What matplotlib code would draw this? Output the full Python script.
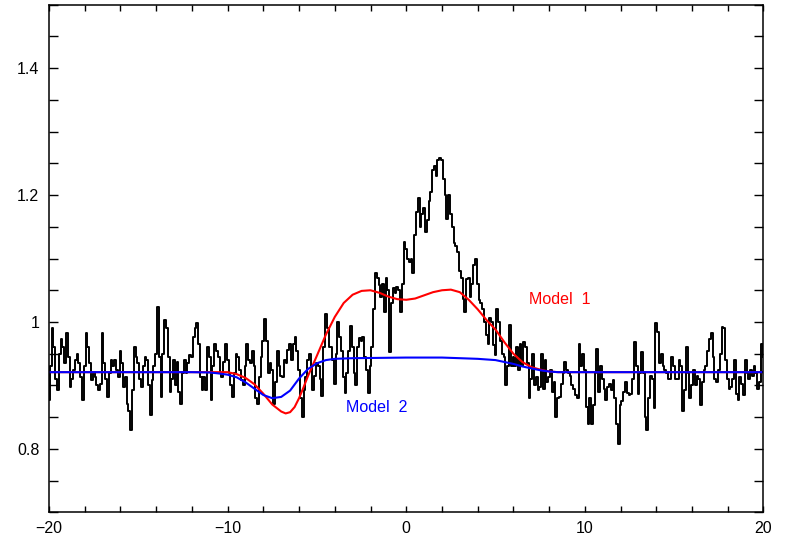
import numpy as np
import matplotlib
matplotlib.use("Agg")
import matplotlib.pyplot as plt
from matplotlib.ticker import MultipleLocator

plt.rcParams['font.family'] = ['Liberation Sans', 'DejaVu Sans']

# observed spectrum, channels every 0.1 from -20.0 to 20.0
v_start = -20.0
v_step = 0.1
flux = [
    # -20.0 .. -13.5
    0.877, 0.93, 0.99, 0.96, 0.91, 0.893, 0.95, 0.974, 0.96, 0.935,
    0.982, 0.945, 0.898, 0.91, 0.924, 0.94, 0.950, 0.935, 0.914, 0.877,
    0.93, 0.982, 0.96, 0.935, 0.908, 0.92, 0.914, 0.90, 0.893, 0.903,
    0.982, 0.935, 0.91, 0.882, 0.92, 0.940, 0.93, 0.940, 0.925, 0.914,
    0.955, 0.935, 0.898, 0.914, 0.871, 0.86, 0.830, 0.893, 0.961, 0.945,
    0.935, 0.91, 0.898, 0.93, 0.945, 0.940, 0.90, 0.853, 0.908, 0.93,
    0.95, 1.024, 0.945, 0.882, 0.95, 1.003,
    # -13.4 .. -6.8
    0.99, 0.945, 0.89, 0.91, 0.94, 0.90, 0.937, 0.89, 0.871, 0.92,
    0.94, 0.92, 0.935, 0.948, 0.945, 0.976, 0.99, 0.998, 0.965, 0.914,
    0.893, 0.914, 0.893, 0.961, 0.945, 0.877, 0.93, 0.966, 0.955, 0.945,
    0.92, 0.914, 0.937, 0.966, 0.94, 0.92, 0.90, 0.882, 0.92, 0.95,
    0.945, 0.924, 0.908, 0.90, 0.93, 0.966, 0.94, 0.935, 0.955, 0.93,
    0.88, 0.871, 0.914, 0.945, 0.97, 1.005, 0.97, 0.92, 0.935, 0.925,
    0.871, 0.905, 0.955, 0.93, 0.915, 0.914, 0.94,
    # -6.7 .. -1.8
    0.935, 0.956, 0.966, 0.94, 0.966, 0.977, 0.955, 0.924, 0.88, 0.851,
    0.893, 0.914, 0.94, 0.95, 0.93, 0.893, 0.915, 0.935, 0.93, 0.91,
    0.883, 0.96, 1.013, 0.99, 0.96, 0.96, 0.94, 0.903, 0.95, 1.0,
    0.977, 0.955, 0.914, 0.888, 0.92, 0.955, 0.993, 0.96, 0.92, 0.90,
    0.96, 0.975, 0.97, 0.977, 0.945, 0.925, 0.888, 0.93, 0.96, 1.02,
    # -1.7 .. 0.0
    1.077, 1.07, 1.058, 1.04, 1.06, 1.016, 1.069, 1.05, 0.953, 1.03,
    1.053, 1.045, 1.055, 1.05, 1.016, 1.06, 1.126, 1.115,
    # 0.1 .. 5.0
    1.10, 1.095, 1.10, 1.077, 1.137, 1.174, 1.195, 1.15, 1.17, 1.18,
    1.142, 1.16, 1.19, 1.205, 1.24, 1.245, 1.23, 1.255, 1.258, 1.255,
    1.225, 1.20, 1.163, 1.20, 1.17, 1.15, 1.125, 1.12, 1.11, 1.08,
    1.07, 1.037, 1.016, 1.068, 1.07, 1.04, 1.06, 1.09, 1.10, 1.06,
    1.035, 1.03, 1.02, 1.0, 0.98, 0.965, 1.006, 1.0, 0.964, 0.948,
    # 5.1 .. 12.6
    1.02, 1.0, 0.97, 0.95, 0.945, 0.90, 0.93, 0.995, 0.93, 0.945,
    0.93, 0.96, 0.925, 0.966, 0.93, 0.968, 0.96, 0.935, 0.88, 0.91,
    0.95, 0.90, 0.914, 0.893, 0.898, 0.95, 0.895, 0.94, 0.905, 0.914,
    0.925, 0.89, 0.905, 0.85, 0.88, 0.882, 0.903, 0.92, 0.937, 0.925,
    0.92, 0.915, 0.90, 0.895, 0.885, 0.88, 0.966, 0.93, 0.95, 0.925,
    0.866, 0.84, 0.88, 0.84, 0.87, 0.92, 0.958, 0.89, 0.93, 0.91,
    0.895, 0.877, 0.898, 0.903, 0.893, 0.908, 0.88, 0.84, 0.808, 0.87,
    0.876, 0.89, 0.905, 0.888, 0.885, 0.886,
    # 12.7 .. 20.0
    0.91, 0.969, 0.93, 0.887, 0.92, 0.953, 0.92, 0.85, 0.83, 0.88,
    0.915, 0.91, 0.864, 0.998, 0.985, 0.935, 0.95, 0.93, 0.924, 0.92,
    0.91, 0.91, 0.945, 0.93, 0.91, 0.91, 0.94, 0.93, 0.86, 0.893,
    0.961, 0.92, 0.88, 0.90, 0.924, 0.90, 0.915, 0.91, 0.87, 0.905,
    0.924, 0.93, 0.955, 0.974, 0.982, 0.945, 0.91, 0.905, 0.925, 0.95,
    0.992, 0.99, 0.94, 0.91, 0.895, 0.898, 0.91, 0.94, 0.887, 0.877,
    0.913, 0.903, 0.885, 0.94, 0.92, 0.91, 0.925, 0.915, 0.93, 0.92,
    0.895, 0.905, 0.966, 0.945,
]
vel = v_start + v_step * np.arange(len(flux))

# model 1 (red)
m1_v = [-20, -10, -9.5, -9, -8.5, -8, -7.5, -7, -6.75, -6.5, -6.25, -6, -5.75,
        -5.5, -5.25, -5, -4.5, -4, -3.5, -3, -2.5, -2, -1.5, -1, -0.5, 0,
        0.5, 1, 1.5, 2, 2.5, 3, 3.5, 4, 4.5, 5, 5.5, 6, 6.5, 7, 7.5, 8, 8.5, 20]
m1_f = [0.921, 0.921, 0.918, 0.912, 0.902, 0.887, 0.870, 0.859, 0.856, 0.858,
        0.866, 0.880, 0.897, 0.915, 0.931, 0.947, 0.980, 1.008, 1.030, 1.043,
        1.049, 1.050, 1.046, 1.040, 1.036, 1.035, 1.037, 1.042, 1.047, 1.050,
        1.051, 1.047, 1.035, 1.020, 1.003, 0.988, 0.968, 0.950, 0.937, 0.929,
        0.925, 0.922, 0.921, 0.921]

# model 2 (blue)
m2_v = [-20, -12, -11, -10.5, -10, -9.5, -9, -8.5, -8, -7.5, -7, -6.5, -6,
        -5.5, -5, -4.5, -4, -3, 0, 2, 3, 4, 4.5, 5, 5.5, 6, 6.5, 7, 7.5, 8,
        8.5, 20]
m2_f = [0.921, 0.921, 0.9205, 0.919, 0.917, 0.913, 0.905, 0.895, 0.885, 0.880,
        0.882, 0.892, 0.911, 0.926, 0.935, 0.940, 0.942, 0.943, 0.944, 0.944,
        0.943, 0.942, 0.941, 0.940, 0.937, 0.934, 0.930, 0.927, 0.924, 0.922,
        0.921, 0.921]

fig = plt.figure(figsize=(7.85, 5.4), dpi=100)
ax = fig.add_axes([0.0624, 0.051, 0.9102, 0.9405])

ax.step(vel, flux, where='mid', color='black', lw=1.4)
ax.plot(m1_v, m1_f, color='#ff0000', lw=1.5)
ax.plot(m2_v, m2_f, color='#0000ff', lw=1.5)

ax.text(6.85, 1.036, 'Model  1', color='#ff0000', fontsize=11.5, va='center')
ax.text(-3.4, 0.866, 'Model  2', color='#0000ff', fontsize=11.5, va='center')

ax.set_xlim(-20, 20)
ax.set_ylim(0.7, 1.5)
ax.set_xticks([-20, -10, 0, 10, 20])
ax.set_xticklabels(['\u221220', '\u221210', '0', '10', '20'])
ax.set_yticks([0.8, 1.0, 1.2, 1.4])
ax.set_yticklabels(['0.8', '1', '1.2', '1.4'])
ax.xaxis.set_minor_locator(MultipleLocator(2))
ax.yaxis.set_minor_locator(MultipleLocator(0.05))
ax.tick_params(which='both', direction='in', top=True, right=True,
               width=1.0, labelsize=11.5)
ax.tick_params(axis='y', which='both', length=6.5, pad=7)
ax.tick_params(axis='x', which='both', length=4.5, pad=6)
for s in ax.spines.values():
    s.set_linewidth(1.1)

fig.savefig('out.png', dpi=100)
